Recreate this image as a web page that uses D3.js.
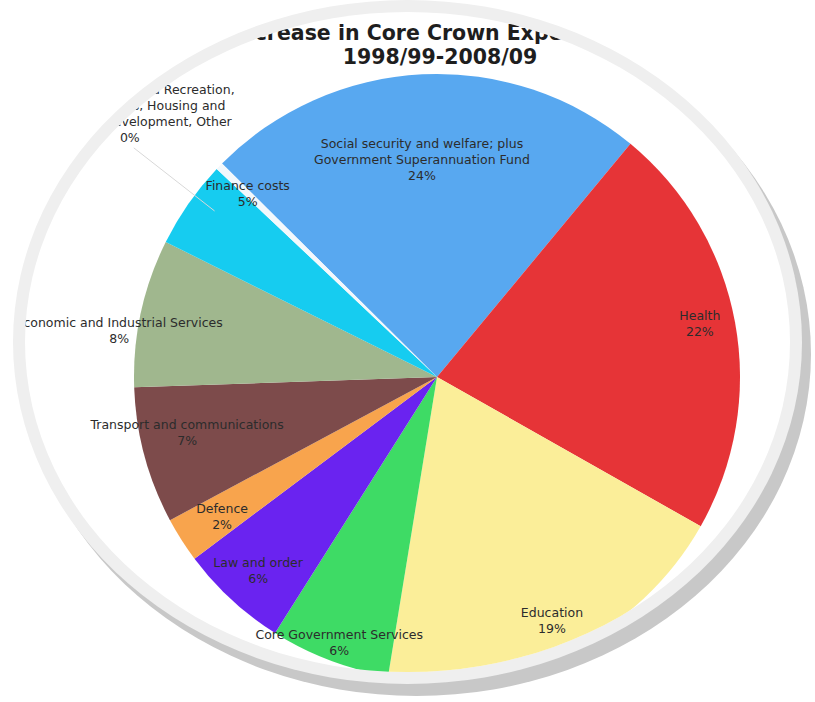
<!DOCTYPE html>
<html>
<head>
<meta charset="utf-8">
<script src="https://cdn.jsdelivr.net/npm/d3@7"></script>
<style>
  html, body { margin: 0; padding: 0; background: #ffffff; }
  svg { display: block; }
</style>
</head>
<body>
<script>
// Increase in Core Crown Expenses, 1998/99-2008/09, share by functional category
const categories = [
  "Social security and welfare; plus\nGovernment Superannuation Fund",
  "Health",
  "Education",
  "Core Government Services",
  "Law and order",
  "Defence",
  "Transport and communications",
  "Economic and Industrial Services",
  "Finance costs",
  "Heritage, Culture and Recreation,\nPrimary Services, Housing and\nCommunity Development, Other"
];
const values = [23.6, 22.2, 19.4, 6.4, 5.8, 2.4, 7.3, 7.9, 4.7, 0.4];
const sliceColors = [
  "#58a8f0", "#e63437", "#fbee99", "#3edb65", "#6a23f0",
  "#f8a44d", "#7d4b4b", "#a0b78e", "#16ccf0", "#f3f8fc"
];
const titleLines = ["Increase in Core Crown Expenses", "1998/99-2008/09"];

// label placement: radius as a share of the pie radius, plus a small angular nudge (degrees)
const labelRadius = [0.72, 0.885, 0.888, 0.935, 0.87, 0.845, 0.845, 1.06, 0.87, 1.335];
const labelNudge  = [-1.2, -1.0, 0.3, -0.6, 0.0, -0.4, 2.5, -4.0, 9.2, -3.5];

const W = 815, H = 702;
const cx = 437, cy = 377, R = 303;
const startDeg = -45.2;
const frame = { cx: 407.5, cy: 342, rx: 382.5, ry: 330, band: 12 };

const svg = d3.select("body").append("svg")
  .attr("width", W).attr("height", H)
  .attr("viewBox", `0 0 ${W} ${H}`);

svg.append("rect").attr("width", W).attr("height", H).attr("fill", "#ffffff");

// round frame: drop shadow, light ring, white face
svg.append("ellipse")
  .attr("cx", frame.cx + 9).attr("cy", frame.cy + 12)
  .attr("rx", frame.rx + frame.band).attr("ry", frame.ry + frame.band)
  .attr("fill", "#c8c8c8");
svg.append("ellipse")
  .attr("cx", frame.cx).attr("cy", frame.cy)
  .attr("rx", frame.rx + frame.band).attr("ry", frame.ry + frame.band)
  .attr("fill", "#efefef");
svg.append("ellipse")
  .attr("cx", frame.cx).attr("cy", frame.cy)
  .attr("rx", frame.rx).attr("ry", frame.ry)
  .attr("fill", "#ffffff");

svg.append("defs").append("clipPath").attr("id", "face")
  .append("ellipse")
  .attr("cx", frame.cx).attr("cy", frame.cy)
  .attr("rx", frame.rx).attr("ry", frame.ry);

const chart = svg.append("g").attr("clip-path", "url(#face)");

// title
const title = chart.append("g")
  .attr("font-family", "'DejaVu Sans', Verdana, sans-serif")
  .attr("font-weight", "bold")
  .attr("font-size", 20.5)
  .attr("fill", "#1e1e1e")
  .attr("text-anchor", "middle");
title.append("text").attr("x", 424).attr("y", 40).text(titleLines[0]);
title.append("text").attr("x", 440).attr("y", 64).text(titleLines[1]);

// pie
const data = categories.map((c, i) => ({ name: c, value: values[i], color: sliceColors[i], i }));
const total = d3.sum(values);
const start = startDeg * Math.PI / 180;
const pie = d3.pie().sort(null).value(d => d.value)
  .startAngle(start).endAngle(start + 2 * Math.PI);
const arc = d3.arc().innerRadius(0).outerRadius(R);
const arcs = pie(data);

const pieG = chart.append("g").attr("transform", `translate(${cx},${cy})`);
pieG.selectAll("path.slice")
  .data(arcs)
  .join("path")
  .attr("class", "slice")
  .attr("d", arc)
  .attr("fill", d => d.data.color);

// label anchor for each slice
function labelPoint(d) {
  const a = (d.startAngle + d.endAngle) / 2 + labelNudge[d.data.i] * Math.PI / 180;
  const r = R * labelRadius[d.data.i];
  return [r * Math.sin(a), -r * Math.cos(a)];
}

// faint leader for the smallest slice
const small = arcs[arcs.length - 1];
const smallMid = (small.startAngle + small.endAngle) / 2;
const lp = labelPoint(small);
pieG.append("line")
  .attr("x1", lp[0] + 4).attr("y1", lp[1] + 34)
  .attr("x2", R * 0.93 * Math.sin(smallMid) - 20).attr("y2", -R * 0.93 * Math.cos(smallMid) + 30)
  .attr("stroke", "#d8d8d8").attr("stroke-width", 1);

const lineH = 16;
const labels = pieG.append("g")
  .attr("font-family", "'DejaVu Sans', Verdana, sans-serif")
  .attr("font-size", 12.5)
  .attr("fill", "#2c2c2c")
  .attr("text-anchor", "middle");

arcs.forEach(d => {
  const [x, y] = labelPoint(d);
  const lines = d.data.name.split("\n").concat([Math.round(d.data.value / total * 100) + "%"]);
  const t = labels.append("text").attr("x", x).attr("y", y);
  lines.forEach((ln, k) => {
    t.append("tspan")
      .attr("x", x)
      .attr("y", y + (k - (lines.length - 1) / 2) * lineH)
      .attr("dy", "0.35em")
      .text(ln);
  });
});
</script>
</body>
</html>
